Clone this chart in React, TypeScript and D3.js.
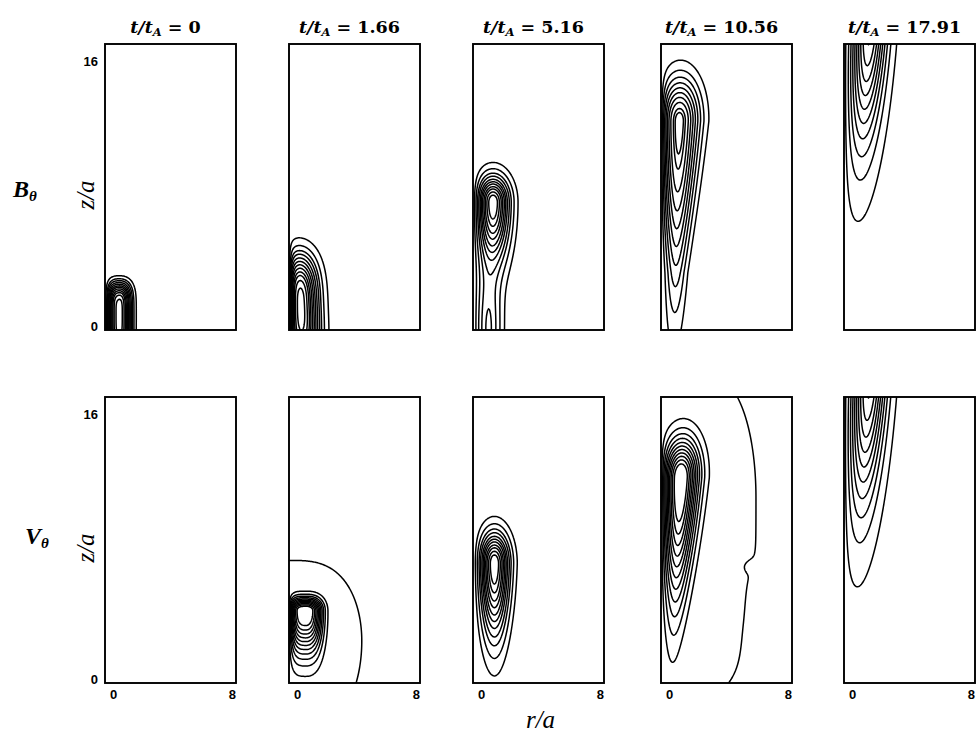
import React, { useMemo } from "react";
import * as d3 from "d3";

// Each panel's field is built from a few smooth sources in (r/a, z/a) space.
// r, z: centre; wr: radial width; wzUp / wzDown: axial widths above / below the centre;
// pr, pzUp, pzDown: profile exponents; ra: on-axis fall-off length (0 = none);
// tilt: radial drift of the centre per unit z; taper: radial narrowing below the centre.
type Source = {
  r: number;
  z: number;
  wr: number;
  wzUp: number;
  wzDown: number;
  pr?: number;
  pzUp?: number;
  pzDown?: number;
  ra?: number;
  tilt?: number;
  taper?: number;
  minW?: number;
  amp?: number;
};

const TIMES = ["0", "1.66", "5.16", "10.56", "17.91"];
const ROW_SYMBOLS = ["B", "V"];
const R_TICKS = [0, 8];
const Z_TICKS = [0, 16];

// Azimuthal magnetic field B_theta
const B_SOURCES: Source[][] = [
  [{ r: 0.8, z: 1.0, wr: 0.75, pr: 2.5, wzUp: 1.75, pzUp: 4, wzDown: 3, pzDown: 4, ra: 0.25 }],
  [{ r: 0.6, z: 1.5, wr: 1.12, pr: 2.2, wzUp: 2.84, pzUp: 3, wzDown: 4, pzDown: 3, ra: 0.2, tilt: -0.04 }],
  [
    { r: 1.2, z: 7.6, wr: 0.95, wzUp: 1.45, wzDown: 3.2, ra: 0.3 },
    { r: 0.9, z: 0, wr: 0.8, wzUp: 4, wzDown: 5, ra: 0.3, amp: 0.35 },
  ],
  [{ r: 1.1, z: 12.4, wr: 1.2, wzUp: 2.4, wzDown: 9, tilt: 0.024, taper: 0.05, minW: 0.55, ra: 0.2 }],
  [{ r: 1.6, z: 18.5, wr: 1.0, wzUp: 3, wzDown: 7, tilt: 0.067, ra: 0.25 }],
];

const B_LEVELS: number[][] = [
  [0.07, 0.15, 0.22, 0.3, 0.38, 0.46, 0.53, 0.61, 0.69, 0.76, 0.84, 0.92],
  [0.06, 0.14, 0.22, 0.29, 0.37, 0.45, 0.53, 0.61, 0.69, 0.76, 0.84, 0.92],
  [0.07, 0.15, 0.24, 0.32, 0.41, 0.49, 0.57, 0.66, 0.74, 0.83, 0.91],
  [0.1, 0.2, 0.3, 0.4, 0.5, 0.6, 0.7, 0.8, 0.9, 0.95],
  [0.05, 0.15, 0.25, 0.35, 0.45, 0.55, 0.65, 0.75, 0.85, 0.95],
];

// Azimuthal velocity V_theta
const V_SOURCES: Source[][] = [
  [],
  [
    { r: 0.9, z: 4.3, wr: 1.06, pr: 3, wzUp: 0.71, wzDown: 2.36, ra: 0.2 },
    { r: 0, z: 2.5, wr: 5.56, pr: 3, wzUp: 6.7, wzDown: 7.5, ra: 0, amp: 0.05 },
  ],
  [{ r: 1.3, z: 7.1, wr: 0.86, wzUp: 1.72, wzDown: 4.1, taper: 0.02, ra: 0.25 }],
  [
    { r: 1.2, z: 12.2, wr: 1.05, wzUp: 2.15, wzDown: 6.8, tilt: 0.047, taper: 0.04, minW: 0.5, ra: 0.2 },
    { r: 0, z: 11, wr: 6.86, pr: 4, wzUp: 11, wzDown: 15.2, pzDown: 3, ra: 0, amp: 0.05 },
    { r: 5.6, z: 6.9, wr: 0.55, wzUp: 0.35, wzDown: 0.35, ra: 0, amp: -0.012 },
    { r: 6.6, z: 3.5, wr: 1.2, wzUp: 3.2, pzUp: 4, wzDown: 2.5, ra: 0, amp: -0.018 },
  ],
  [{ r: 1.6, z: 18.6, wr: 1.0, wzUp: 3, wzDown: 7.5, tilt: 0.067, ra: 0.25 }],
];

const V_LEVELS: number[][] = [
  [],
  [0.03, 0.11, 0.19, 0.27, 0.35, 0.43, 0.51, 0.59, 0.67, 0.75, 0.83, 0.91],
  [0.07, 0.15, 0.24, 0.32, 0.41, 0.49, 0.57, 0.66, 0.74, 0.83, 0.91],
  [0.03, 0.11, 0.19, 0.27, 0.35, 0.43, 0.51, 0.59, 0.67, 0.75, 0.83, 0.91],
  [0.05, 0.15, 0.25, 0.35, 0.45, 0.55, 0.65, 0.75, 0.85, 0.95],
];

const ROW_SOURCES = [B_SOURCES, V_SOURCES];
const ROW_LEVELS = [B_LEVELS, V_LEVELS];

// layout
const WIDTH = 976;
const HEIGHT = 737;
const COL_X = [105, 289, 473, 661, 844];
const ROW_Y = [44, 397];
const PW = 131;
const PH = 286;
const R_DOMAIN: [number, number] = [0, 8];
const Z_DOMAIN: [number, number] = [0, 17];

const SERIF = "'DejaVu Serif', 'Liberation Serif', serif";
const LSERIF = "'Liberation Serif', 'DejaVu Serif', serif";
const SANS = "'Liberation Sans', Arial, sans-serif";

function fieldAt(srcs: Source[], r: number, z: number): number {
  let v = 0;
  for (const s of srcs) {
    const dz = z - s.z;
    const below = dz < 0;
    const wz = below ? s.wzDown : s.wzUp;
    const pz = below ? s.pzDown ?? 2 : s.pzUp ?? 2;
    const shrink = below && s.taper ? Math.max(s.minW ?? 0.45, 1 + s.taper * dz) : 1;
    const wr = s.wr * shrink;
    const rc = s.r + (s.tilt ?? 0) * dz;
    const ra = s.ra ?? 0.25;
    const axis = ra > 0 ? 1 - Math.exp(-r / ra) : 1;
    v +=
      (s.amp ?? 1) *
      axis *
      Math.exp(-Math.pow(Math.abs(r - rc) / wr, s.pr ?? 2) - Math.pow(Math.abs(dz) / wz, pz));
  }
  return v;
}

function contourPaths(srcs: Source[], levels: number[], x0: number, y0: number): string[] {
  if (!srcs.length || !levels.length) return [];
  const rScale = d3.scaleLinear().domain(R_DOMAIN).range([x0, x0 + PW]);
  const zScale = d3.scaleLinear().domain(Z_DOMAIN).range([y0 + PH, y0]);
  const pad = 3;
  const nx = PW + 2 * pad;
  const ny = PH + 2 * pad;
  const gx0 = x0 - pad;
  const gy0 = y0 - pad;
  const values: number[] = new Array(nx * ny);
  for (let j = 0; j < ny; j++) {
    const z = zScale.invert(gy0 + j + 0.5);
    for (let i = 0; i < nx; i++) {
      const r = rScale.invert(gx0 + i + 0.5);
      values[j * nx + i] = fieldAt(srcs, r, z);
    }
  }
  const gen = d3.contours().size([nx, ny]).thresholds(levels);
  const path = d3.geoPath(d3.geoIdentity().translate([gx0, gy0]) as any);
  return gen(values).map((c) => path(c as any) || "");
}

function Panel({ row, col }: { row: number; col: number }) {
  const x0 = COL_X[col];
  const y0 = ROW_Y[row];
  const rScale = d3.scaleLinear().domain(R_DOMAIN).range([x0, x0 + PW]);
  const zScale = d3.scaleLinear().domain(Z_DOMAIN).range([y0 + PH, y0]);
  const paths = useMemo(
    () => contourPaths(ROW_SOURCES[row][col], ROW_LEVELS[row][col], x0, y0),
    [row, col, x0, y0]
  );
  const clipId = `clip-${row}-${col}`;
  return (
    <g>
      <defs>
        <clipPath id={clipId}>
          <rect x={x0} y={y0} width={PW} height={PH} />
        </clipPath>
      </defs>
      <g clipPath={`url(#${clipId})`} fill="none" stroke="#000" strokeWidth={1.5} strokeLinejoin="round">
        {paths.map((d, k) => (
          <path key={k} d={d} />
        ))}
      </g>
      <rect x={x0} y={y0} width={PW} height={PH} fill="none" stroke="#000" strokeWidth={1.9} />
      {col === 0 &&
        Z_TICKS.map((v) => (
          <text
            key={`z${v}`}
            x={x0 - 7}
            y={Math.min(zScale(v) + 5, zScale(0) + 1)}
            textAnchor="end"
            fontFamily={SANS}
            fontWeight="bold"
            fontSize={13}
          >
            {v}
          </text>
        ))}
      {row === 1 &&
        R_TICKS.map((v, k) => (
          <text
            key={`r${v}`}
            x={k === 0 ? rScale(v) + 5 : rScale(v)}
            y={y0 + PH + 16}
            textAnchor={k === 0 ? "start" : "end"}
            fontFamily={SANS}
            fontWeight="bold"
            fontSize={13}
          >
            {v}
          </text>
        ))}
    </g>
  );
}

export default function App() {
  return (
    <svg
      width={WIDTH}
      height={HEIGHT}
      viewBox={`0 0 ${WIDTH} ${HEIGHT}`}
      style={{ position: "absolute", left: 0, top: 0, background: "#fff" }}
    >
      <rect x={0} y={0} width={WIDTH} height={HEIGHT} fill="#fff" />
      {TIMES.map((t, c) => (
        <text
          key={t}
          x={COL_X[c] + PW / 2 - 5}
          y={33}
          textAnchor="middle"
          fontFamily={SERIF}
          fontWeight="bold"
          fontSize={17.5}
        >
          <tspan fontStyle="italic">t/t</tspan>
          <tspan fontStyle="italic" fontSize={11.5} dy={3}>
            A
          </tspan>
          <tspan dy={-3}>{` = ${t}`}</tspan>
        </text>
      ))}
      {ROW_SYMBOLS.map((s, r) => (
        <g key={s}>
          <text
            x={r === 0 ? 13 : 25}
            y={ROW_Y[r] + PH / 2 + (r === 0 ? 10 : 4)}
            fontFamily={LSERIF}
            fontStyle="italic"
            fontWeight="bold"
            fontSize={24}
          >
            {s}
            <tspan fontSize={15} dy={4}>
              θ
            </tspan>
          </text>
          <text
            transform={`translate(94, ${ROW_Y[r] + PH / 2 + 8}) rotate(-90)`}
            textAnchor="middle"
            fontFamily={LSERIF}
            fontStyle="italic"
            fontSize={25}
          >
            z/a
          </text>
          {[0, 1, 2, 3, 4].map((c) => (
            <Panel key={c} row={r} col={c} />
          ))}
        </g>
      ))}
      <text
        x={COL_X[2] + PW / 2 + 2}
        y={728}
        textAnchor="middle"
        fontFamily={LSERIF}
        fontStyle="italic"
        fontSize={25}
      >
        r/a
      </text>
    </svg>
  );
}
